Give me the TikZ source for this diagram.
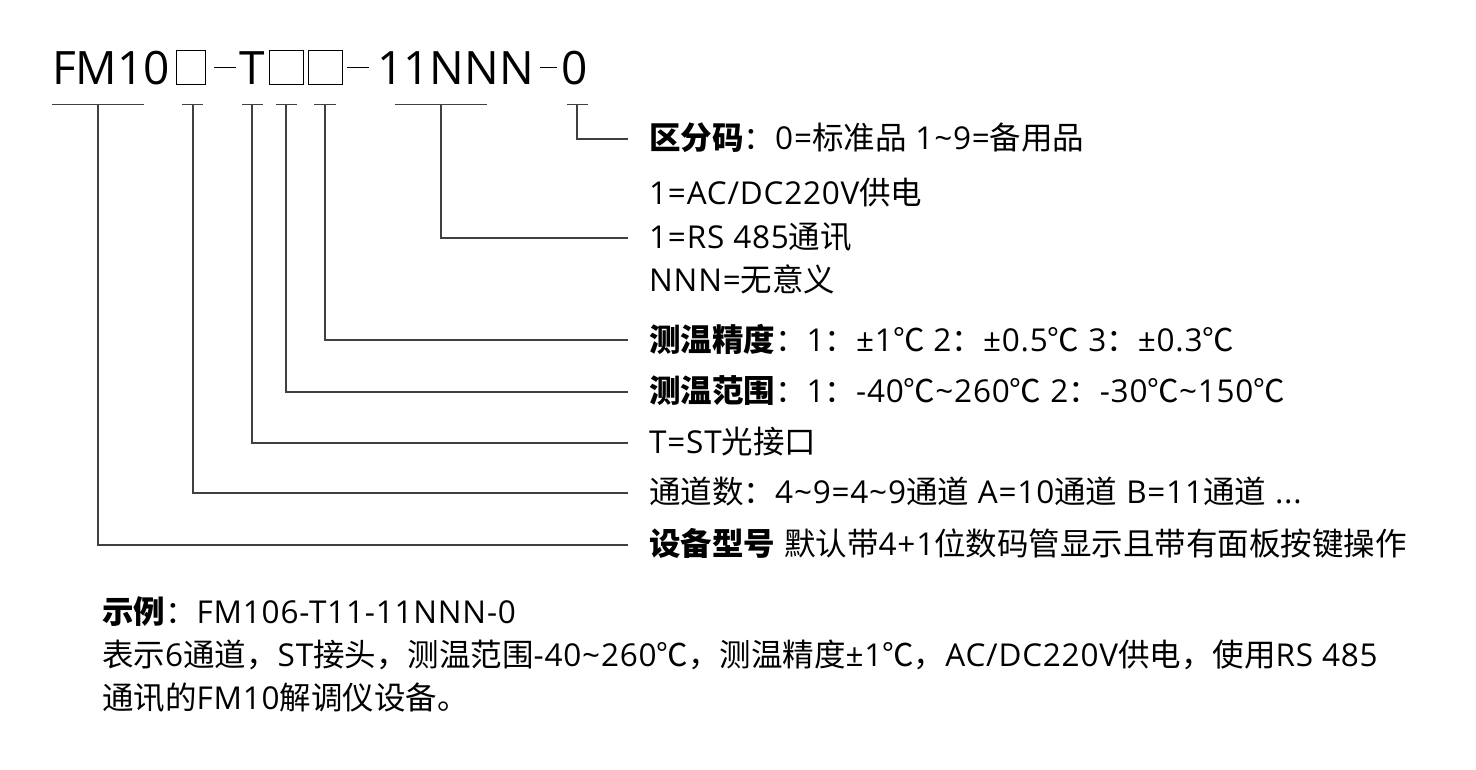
\documentclass[tikz,border=0pt]{standalone}
\usepackage{fontspec}
\setmainfont{Open Sans}[LetterSpace=2.5]
\newfontfamily\titlefont{Open Sans}
\newfontfamily\cjkfont{Noto Sans CJK SC}
\XeTeXinterchartokenstate=1
\newXeTeXintercharclass\CJKcls
\count255="4E00
\loop\ifnum\count255<"A000 \XeTeXcharclass\count255=\CJKcls \advance\count255 by 1 \repeat
\count255="3000
\loop\ifnum\count255<"3040 \XeTeXcharclass\count255=\CJKcls \advance\count255 by 1 \repeat
\count255="FF00
\loop\ifnum\count255<"FF60 \XeTeXcharclass\count255=\CJKcls \advance\count255 by 1 \repeat
\XeTeXcharclass"2103=\CJKcls
\XeTeXinterchartoks 0 \CJKcls = {\begingroup\cjkfont}
\XeTeXinterchartoks 4095 \CJKcls = {\begingroup\cjkfont}
\XeTeXinterchartoks \CJKcls 0 = {\endgroup}
\XeTeXinterchartoks \CJKcls 4095 = {\endgroup}
\newcommand\tld{\char"7E\relax}
\tikzset{
  ttl/.style={anchor=base west, inner sep=0pt, font=\titlefont\fontsize{46}{50}\selectfont},
  desc/.style={anchor=base west, inner sep=0pt, font=\fontsize{31.5}{36}\selectfont},
  lead/.style={draw=black!75, line width=1.2pt},
  slot/.style={draw=black, line width=1pt},
}
\begin{document}
\begin{tikzpicture}[x=1pt,y=-1pt]
\useasboundingbox (0,0) rectangle (1476,769);
% title
\node[ttl] (fm) at (52,84) {FM10};
\draw[slot] (176,50) rectangle (205,84);
\draw[slot] (214,67) -- (236,67);
\node[ttl] (tt) at (239,84) {T};
\draw[slot] (269,50) rectangle (303,84);
\draw[slot] (308,50) rectangle (342,84);
\draw[slot] (347,67) -- (369,67);
\node[ttl] (nn) at (377,84) {11NNN};
\draw[slot] (540,67) -- (557,67);
\node[ttl] (zz) at (561,84) {0};
% underline bars and tick points
\coordinate (k1) at (98,104.7);
\coordinate (k2) at (193,104.7);
\coordinate (k3) at (252,104.7);
\coordinate (k4) at (286,104.7);
\coordinate (k5) at (325,104.7);
\coordinate (k6) at (441,104.7);
\coordinate (k7) at (577,104.7);
\draw[lead] (52,104.7) -- (144,104.7);
\draw[lead] (182,104.7) -- (203,104.7);
\draw[lead] (242,104.7) -- (263,104.7);
\draw[lead] (276,104.7) -- (297,104.7);
\draw[lead] (314,104.7) -- (336,104.7);
\draw[lead] (395,104.7) -- (487,104.7);
\draw[lead] (567,104.7) -- (588,104.7);
% descriptions
\node[desc] (d7) at (649,149) {{\bfseries 区分码}：0=标准品 1\tld 9=备用品};
\node[desc] (d6a) at (649,204) {1=AC/DC220V供电};
\node[desc] (d6) at (649,248) {1=RS 485通讯};
\node[desc] (d6c) at (649,291) {NNN=无意义};
\node[desc] (d5) at (649,351) {{\bfseries 测温精度}：1：±1℃ 2：±0.5℃ 3：±0.3℃};
\node[desc] (d4) at (649,402) {{\bfseries 测温范围}：1：-40℃\tld 260℃ 2：-30℃\tld 150℃};
\node[desc] (d3) at (649,453) {T=ST光接口};
\node[desc] (d2) at (649,503) {通道数：4\tld 9=4\tld 9通道 A=10通道 B=11通道 ...};
\node[desc] (d1) at (649,555) {{\bfseries 设备型号} 默认带4+1位数码管显示且带有面板按键操作};
% connector ends
\coordinate (e7) at (628,139);
\coordinate (e6) at (628,238);
\coordinate (e5) at (628,340);
\coordinate (e4) at (628,392);
\coordinate (e3) at (628,443);
\coordinate (e2) at (628,493);
\coordinate (e1) at (628,545);
\draw[lead] (k7) |- (e7);
\draw[lead] (k6) |- (e6);
\draw[lead] (k5) |- (e5);
\draw[lead] (k4) |- (e4);
\draw[lead] (k3) |- (e3);
\draw[lead] (k2) |- (e2);
\draw[lead] (k1) |- (e1);
% example
\node[desc] (ex1) at (102,623) {{\bfseries 示例}：FM106-T11-11NNN-0};
\node[desc] (ex2) at (102,666) {表示6通道，ST接头，测温范围-40\tld 260℃，测温精度±1℃，AC/DC220V供电，使用RS 485};
\node[desc] (ex3) at (102,709) {通讯的FM10解调仪设备。};
\end{tikzpicture}
\end{document}
